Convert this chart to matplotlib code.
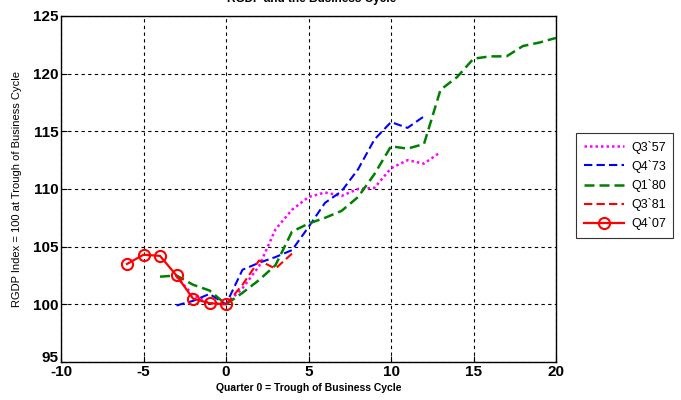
import numpy as np
import matplotlib
matplotlib.use("Agg")
import matplotlib.pyplot as plt
import matplotlib.transforms as mtransforms

# quarters relative to trough, index = 100 at trough
q57_x = [-3, -2, -1, 0, 1, 2, 3, 4, 5, 6, 7, 8, 9, 10, 11, 12, 13]
q57_y = [102.4, 100.8, 100.1, 100.0, 101.4, 103.3, 106.5, 108.2, 109.3, 109.7, 109.4,
         110.0, 110.1, 111.8, 112.5, 112.2, 113.2]

q73_x = [-3, -2, -1, 0, 1, 2, 3, 4, 5, 6, 7, 8, 9, 10, 11, 12]
q73_y = [99.9, 100.3, 100.9, 100.0, 103.0, 103.6, 104.1, 104.7, 106.7, 108.8, 109.8,
         111.7, 114.3, 115.8, 115.3, 116.3]

q80_x = [-4, -3, -2, -1, 0, 1, 2, 3, 4, 5, 6, 7, 8, 9, 10, 11, 12, 13, 14, 15, 16,
         17, 18, 19, 20]
q80_y = [102.4, 102.5, 101.7, 101.2, 100.0, 101.0, 102.1, 103.4, 106.3, 107.0, 107.5,
         108.1, 109.3, 111.3, 113.7, 113.5, 113.9, 118.6, 119.7, 121.3, 121.5, 121.5,
         122.4, 122.7, 123.1]

q81_x = [0, 1, 2, 3, 4]
q81_y = [100.0, 101.7, 103.8, 103.1, 104.4]

q07_x = [-6, -5, -4, -3, -2, -1, 0]
q07_y = [103.5, 104.3, 104.2, 102.5, 100.5, 100.1, 100.0]

labels = ["Q3`57", "Q4`73", "Q1`80", "Q3`81", "Q4`07"]

plt.rcParams["axes.unicode_minus"] = False
font = ["Liberation Sans", "DejaVu Sans"]

fig = plt.figure(figsize=(6.81, 4.0), dpi=100)
ax = fig.add_axes([61 / 681, 1 - 362 / 400, 495 / 681, 346 / 400])

ax.plot(q57_x, q57_y, color="#ff00ff", linestyle=(0, (1, 1.2)), linewidth=1.8, label=labels[0])
ax.plot(q73_x, q73_y, color="#0000ff", linestyle=(0, (4, 2)), linewidth=1.5, label=labels[1])
ax.plot(q80_x, q80_y, color="#008000", linestyle=(0, (4, 2)), linewidth=1.8, label=labels[2])
ax.plot(q81_x, q81_y, color="#ff0000", linestyle=(0, (4, 2)), linewidth=1.5, label=labels[3])
ax.plot(q07_x, q07_y, color="#ff0000", linestyle="-", linewidth=1.6, marker="o",
        markersize=8, markerfacecolor="none", markeredgewidth=1.5, label=labels[4])

ax.set_xlim(-10, 20)
ax.set_ylim(95, 125)
ax.set_xticks(np.arange(-10, 21, 5))
ax.set_yticks(np.arange(95, 126, 5))
ax.tick_params(direction="in", length=4, width=0.8, pad=2)
for t in ax.get_xticklabels() + ax.get_yticklabels():
    t.set_family(font)
    t.set_fontweight("bold")
    t.set_fontsize(11)
# lift the bottom y label a little so it clears the -10
lbl95 = ax.get_yticklabels()[0]
lbl95.set_transform(lbl95.get_transform() +
                    mtransforms.ScaledTranslation(0, 4 / 72, fig.dpi_scale_trans))
ax.grid(True, color="black", linestyle=(0, (3, 3)), linewidth=0.8)
for s in ax.spines.values():
    s.set_linewidth(1.0)

ax.set_xlabel("Quarter 0 = Trough of Business Cycle", family=font, fontweight="bold",
              fontsize=7.5, labelpad=3)
ax.set_ylabel("RGDP Index = 100 at Trough of Business Cycle", family=font,
              fontsize=8, labelpad=8)

fig.text(312 / 681, 1.002, "RGDP and the Business Cycle", ha="center", va="center",
         family=font, fontweight="bold", fontsize=8.5)

leg = ax.legend(loc="upper left", bbox_to_anchor=(576 / 681, 1 - 133 / 400),
                bbox_transform=fig.transFigure, borderaxespad=0, frameon=True,
                fancybox=False, edgecolor="black", handlelength=3.2, handletextpad=0.6,
                borderpad=0.6, labelspacing=0.5, prop={"family": font, "size": 9})
leg.get_frame().set_linewidth(0.8)

fig.savefig("out.png", dpi=100)
